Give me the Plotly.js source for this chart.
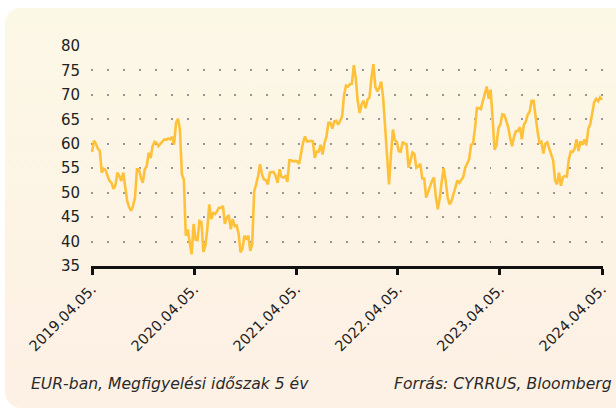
<!DOCTYPE html>
<html><head><meta charset="utf-8">
<script src="https://cdn.plot.ly/plotly-3.0.1.min.js"></script>
<style>
html,body{margin:0;padding:0;background:#fff;width:616px;height:410px;overflow:hidden}
#card{position:absolute;left:5px;top:8px;width:660px;height:400px;border-radius:16px;background:linear-gradient(180deg,#FCF8E6 0%,#FDF0E4 100%)}
#chart{position:absolute;left:0;top:0;width:616px;height:410px}
</style></head><body>
<div id="card"></div><div id="chart"></div>
<script>
// Weekly observations, first observation date
const startDate = [2019, 3, 5];
const values = [
  58.3, 60.6, 60.0, 59.0, 58.5, 54.1, 54.9, 54.6, 53.4, 52.4,
  52.0, 50.8, 51.5, 54.1, 53.4, 52.4, 54.1, 50.7, 48.3, 47.0,
  46.3, 47.3, 49.0, 54.8, 54.8, 53.1, 52.0, 54.8, 55.4, 58.2,
  57.1, 59.5, 60.4, 60.2, 59.5, 60.0, 60.4, 60.9, 60.8, 61.1,
  60.9, 61.4,
  59.8, 64.3, 65.1, 62.9, 53.7, 52.7, 41.2, 42.5, 39.8, 37.4,
  43.6, 40.4, 40.3, 44.2, 44.0, 37.9, 39.1, 42.5, 47.6, 44.6,
  45.8, 45.6, 46.2, 46.9, 46.9, 47.3, 43.6, 44.9, 45.4, 42.5,
  44.6, 43.2, 43.3, 41.7, 37.8, 38.5, 41.2, 40.4, 41.2, 38.1,
  39.5, 50.3, 51.7, 53.4, 55.8,
  53.7, 52.7, 52.6, 51.7, 54.1, 54.2, 54.2, 53.4, 52.0, 54.8,
  53.2, 53.1, 53.4, 52.2, 56.6, 56.6, 56.4, 56.5, 56.4, 55.9,
  58.5, 60.2, 61.5, 60.5, 60.5, 60.6, 60.5, 57.1, 58.4, 58.4,
  59.8, 57.8, 60.2, 61.5, 64.3, 64.3, 63.1, 64.6, 64.7, 63.9,
  64.7, 65.6, 70.0, 71.9,
  71.7, 72.2, 72.3, 76.1, 73.4, 68.7, 66.3, 68.1, 68.8, 67.3,
  69.0, 69.5, 73.4, 76.3, 71.7, 70.7, 71.4, 72.7, 69.4, 63.6,
  57.8, 51.7, 57.8, 62.9, 60.7, 60.4, 58.5, 58.4, 60.4, 60.0,
  59.9, 55.1, 56.6, 58.2, 57.9, 55.1, 55.4, 55.9, 52.9, 52.9,
  49.0, 50.2, 51.3, 52.4,
  53.1, 49.0, 46.6, 49.0, 52.4, 55.0, 52.4, 49.0, 47.6, 48.3,
  49.7, 51.2, 52.5, 52.0, 52.5, 53.2, 55.1, 56.1, 56.8, 59.8,
  60.0, 63.2, 67.3, 67.3, 67.1, 68.7, 70.2, 71.7, 69.2, 71.1,
  65.3, 58.8, 59.7, 63.2, 64.0, 66.0, 65.9, 64.7, 63.4, 61.2,
  59.5, 61.5, 62.6, 62.6,
  63.4, 60.9, 63.9, 64.5, 66.0, 66.6, 68.8, 68.8, 65.3, 62.6,
  60.2, 60.4, 58.0, 60.0, 60.3, 59.0, 57.8, 56.6, 52.5, 51.7,
  54.1, 51.4, 53.2, 53.4, 53.3, 56.8, 58.4, 58.3, 59.0, 60.9,
  58.5, 60.5, 59.8, 60.9, 59.7, 63.1, 64.0, 66.1, 68.5, 69.2,
  68.7, 69.5, 69.0
];
const tickDates = ['2019-04-05', '2020-04-05', '2021-04-05', '2022-04-05', '2023-04-05', '2024-04-05'];
const tickLabels = ['2019.04.05.', '2020.04.05.', '2021.04.05.', '2022.04.05.', '2023.04.05.', '2024.04.05.'];
const yTicks = [35, 40, 45, 50, 55, 60, 65, 70, 75, 80];
const footLeft = 'EUR-ban, Megfigyelési időszak 5 év';
const footRight = 'Forrás: CYRRUS, Bloomberg';

const dates = values.map(function (_, i) {
  const t = Date.UTC(startDate[0], startDate[1], startDate[2]) + i * 7 * 86400000;
  return new Date(t).toISOString().slice(0, 10);
});

const FONT = 'DejaVu Sans, sans-serif';

const trace = {
  x: dates, y: values, type: 'scatter', mode: 'lines',
  line: {color: '#FFC13A', width: 2.6, shape: 'linear'},
  hoverinfo: 'skip', showlegend: false
};

const layout = {
  width: 616, height: 410,
  margin: {l: 91, r: 13, t: 46, b: 144, pad: 0},
  paper_bgcolor: 'rgba(0,0,0,0)', plot_bgcolor: 'rgba(0,0,0,0)',
  font: {family: FONT, color: '#222'},
  showlegend: false,
  xaxis: {
    type: 'date',
    range: ['2019-04-01 10:00', '2024-04-08 14:00'],
    showgrid: false, zeroline: false,
    showline: true, linecolor: '#111', linewidth: 3,
    ticks: 'outside', ticklen: 6, tickwidth: 3, tickcolor: '#111',
    tickmode: 'array', tickvals: tickDates, ticktext: tickLabels,
    tickangle: -45, tickfont: {family: FONT, size: 14.5, color: '#1e1e1e'}
  },
  yaxis: {
    range: [35, 80], tickmode: 'array', tickvals: yTicks,
    showgrid: true, gridcolor: '#959595', gridwidth: 2, griddash: '2px,13.94px',
    zeroline: false, showline: false, ticks: '',
    ticklabelstandoff: 10,
    tickfont: {family: FONT, size: 15, color: '#222'}
  },
  annotations: [
    {text: footLeft, xref: 'paper', yref: 'paper', x: -0.121, y: -0.537,
     xanchor: 'left', yanchor: 'middle', showarrow: false,
     font: {family: FONT, size: 15.6, color: '#2a2a2a', style: 'italic'}},
    {text: footRight, xref: 'paper', yref: 'paper', x: 1.0215, y: -0.537,
     xanchor: 'right', yanchor: 'middle', showarrow: false,
     font: {family: FONT, size: 15.6, color: '#2a2a2a', style: 'italic'}}
  ]
};

Plotly.newPlot('chart', [trace], layout, {staticPlot: true, displayModeBar: false});
</script>
</body></html>
